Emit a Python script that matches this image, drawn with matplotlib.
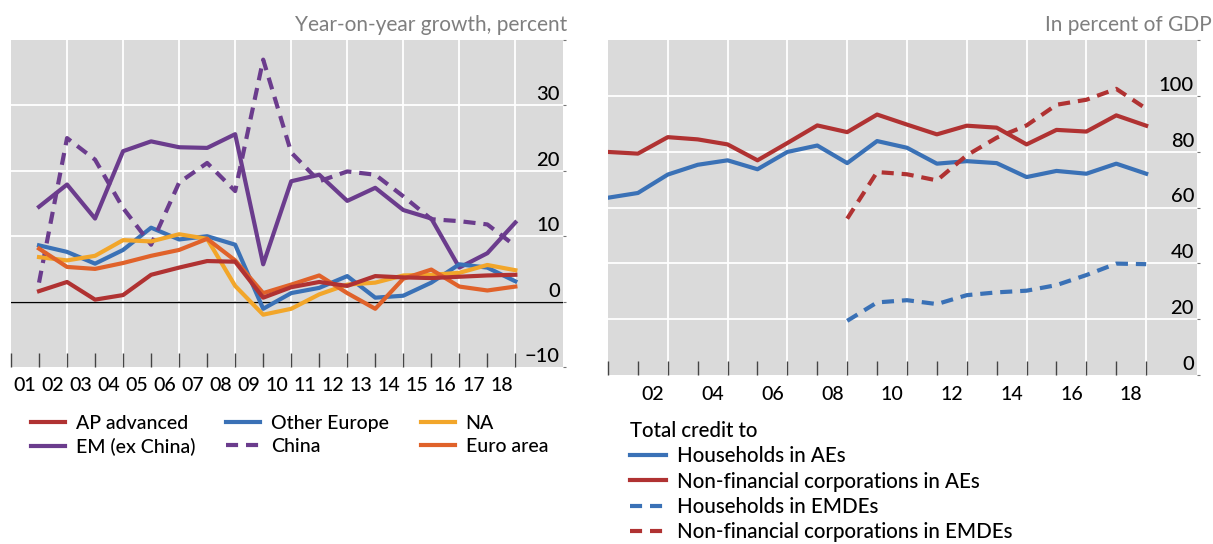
import matplotlib
matplotlib.use("Agg")
import matplotlib.pyplot as plt
from matplotlib.transforms import ScaledTranslation
import numpy as np

plt.rcParams['font.family'] = ['Lato', 'DejaVu Sans']
plt.rcParams['font.weight'] = 'medium'

# left panel: year-on-year growth, year ends 2001-2018
years_l = list(range(2001, 2019))
ap_advanced = [1.6, 3.0, 0.3, 1.0, 4.1, 5.2, 6.2, 6.1, 0.6, 2.2, 3.0, 2.4, 3.9, 3.7, 3.6, 3.8, 4.0, 4.1]
other_europe = [8.6, 7.6, 5.8, 7.9, 11.3, 9.5, 10.0, 8.7, -1.1, 1.3, 2.1, 3.9, 0.6, 0.9, 2.9, 5.7, 5.2, 3.1]
na = [6.8, 6.3, 7.0, 9.4, 9.2, 10.3, 9.6, 2.4, -2.0, -1.1, 1.1, 2.6, 2.9, 4.0, 4.1, 4.4, 5.6, 4.8]
em_ex_china = [14.5, 17.9, 12.7, 23.0, 24.5, 23.6, 23.5, 25.6, 5.7, 18.4, 19.4, 15.4, 17.4, 14.0, 12.7, 5.2, 7.4, 12.1]
china = [2.9, 25.0, 21.7, 14.3, 8.7, 18.2, 21.2, 16.9, 37.0, 22.8, 18.4, 19.9, 19.4, 16.1, 12.6, 12.3, 11.8, 8.5]
euro_area = [8.1, 5.3, 5.0, 5.9, 7.0, 7.9, 9.6, 6.3, 1.3, 2.6, 4.0, 1.3, -1.1, 3.5, 4.9, 2.3, 1.7, 2.3]

# right panel: total credit in percent of GDP
years_r = list(range(2000, 2019))
hh_aes = [63.5, 65.2, 71.8, 75.3, 76.9, 73.7, 79.9, 82.2, 75.9, 83.8, 81.4, 75.7, 76.6, 75.9, 70.9, 73.1, 72.1, 75.7, 72.1]
nfc_aes = [79.9, 79.3, 85.2, 84.4, 82.6, 76.9, 83.1, 89.4, 87.0, 93.3, 89.7, 86.2, 89.3, 88.6, 82.6, 87.8, 87.2, 93.0, 89.3]
years_emde = list(range(2008, 2019))
hh_emdes = [19.4, 26.0, 26.8, 25.4, 28.6, 29.6, 30.2, 32.2, 35.8, 39.9, 39.7]
nfc_emdes = [56.0, 72.7, 71.9, 69.7, 78.7, 85.0, 89.4, 96.8, 98.6, 102.5, 95.4]

ticks_l = [-10, 0, 10, 20, 30]
ticks_r = [0, 20, 40, 60, 80, 100]
labels_l = ['%02d' % (y % 100) for y in years_l]
labels_r = ['%02d' % (y % 100) for y in range(2002, 2019, 2)]

RED = '#B03232'
BLUE = '#3A71B6'
YELLOW = '#F2A62A'
PURPLE = '#6B3C8D'
ORANGE = '#E0622A'
BG = '#DADADA'
GREY = '#7F7F7F'
LW = 3
DASH = (2.9, 1.9)

fig = plt.figure(figsize=(12.13, 5.44), dpi=100)
W, H = 1213, 544
ax1 = fig.add_axes([11 / W, 177 / H, 552 / W, 327 / H])
ax2 = fig.add_axes([608 / W, 169 / H, 589 / W, 335 / H])


def style(ax, ylim, yticks, label_pos, labels, pad):
    ax.set_facecolor(BG)
    for s in ax.spines.values():
        s.set_visible(False)
    ax.set_xlim(2000, 2019.7)
    ax.set_ylim(*ylim)
    ax.set_xticks(range(2000, 2019))
    ax.tick_params(axis='x', which='major', direction='in', length=10,
                   width=1.0, color='#444444', labelbottom=False)
    ax.set_xticks(label_pos, minor=True)
    ax.set_xticklabels(labels, minor=True)
    ax.tick_params(axis='x', which='minor', length=0, pad=pad, labelsize=14)
    for x in range(2002, 2019, 2):
        ax.axvline(x, color='white', lw=1.3, zorder=1)
    for v in yticks:
        if ylim[0] < v < ylim[1]:
            ax.axhline(v, color='white', lw=1.3, zorder=1)
    ax.set_yticks(yticks + [ylim[1]])
    ax.tick_params(axis='y', left=False, right=True, direction='out',
                   length=2, width=0.8, color='#777777',
                   labelleft=False, labelright=False)
    off = ax.get_yaxis_transform() + ScaledTranslation(-0.03, 0.05, fig.dpi_scale_trans)
    for v in yticks:
        ax.text(1, v, str(v).replace('-', '\u2212'), transform=off,
                ha='right', va='baseline', fontsize=14.5, color='black')


style(ax1, (-10, 40), ticks_l, [y - 0.5 for y in years_l], labels_l, 7)
style(ax2, (0, 120), ticks_r, [y - 0.5 for y in range(2002, 2019, 2)], labels_r, 8)
ax1.axhline(0, color='black', lw=1.0, zorder=2)

l_ap, = ax1.plot(years_l, ap_advanced, color=RED, lw=LW, zorder=3.3, label='AP advanced')
l_em, = ax1.plot(years_l, em_ex_china, color=PURPLE, lw=LW, zorder=3, label='EM (ex China)')
l_oe, = ax1.plot(years_l, other_europe, color=BLUE, lw=LW, zorder=3, label='Other Europe')
l_cn, = ax1.plot(years_l, china, color=PURPLE, lw=LW, zorder=3, dashes=DASH, label='China')
l_na, = ax1.plot(years_l, na, color=YELLOW, lw=LW, zorder=3, label='NA')
l_ea, = ax1.plot(years_l, euro_area, color=ORANGE, lw=LW, zorder=3.2, label='Euro area')

r_hh, = ax2.plot(years_r, hh_aes, color=BLUE, lw=LW, zorder=3, label='Households in AEs')
r_nfc, = ax2.plot(years_r, nfc_aes, color=RED, lw=LW, zorder=3, label='Non-financial corporations in AEs')
r_hhe, = ax2.plot(years_emde, hh_emdes, color=BLUE, lw=LW, zorder=3, dashes=DASH, label='Households in EMDEs')
r_nfce, = ax2.plot(years_emde, nfc_emdes, color=RED, lw=LW, zorder=3, dashes=DASH, label='Non-financial corporations in EMDEs')

fig.text(567 / W, 1 - 25 / H, 'Year-on-year growth, percent', ha='right', va='center',
         fontsize=15, color=GREY, fontweight='normal')
fig.text(1212 / W, 1 - 25 / H, 'In percent of GDP', ha='right', va='center',
         fontsize=15, color=GREY, fontweight='normal')

leg_kw = dict(loc='upper left', frameon=False, handlelength=1.75,
              handletextpad=0.55, borderpad=0, borderaxespad=0)
for hs, x in [([l_ap, l_em], 31), ([l_oe, l_cn], 226), ([l_na, l_ea], 421)]:
    fig.legend(handles=hs, bbox_to_anchor=(x / W, 1 - 415 / H), fontsize=14,
               labelspacing=0.31, **leg_kw)

fig.legend(handles=[r_hh, r_nfc, r_hhe, r_nfce], title='Total credit to',
           title_fontsize=14.8, fontsize=14.8, alignment='left', labelspacing=0.26,
           bbox_to_anchor=(630 / W, 1 - 421 / H), **leg_kw)

plt.savefig('out.png', dpi=100)
